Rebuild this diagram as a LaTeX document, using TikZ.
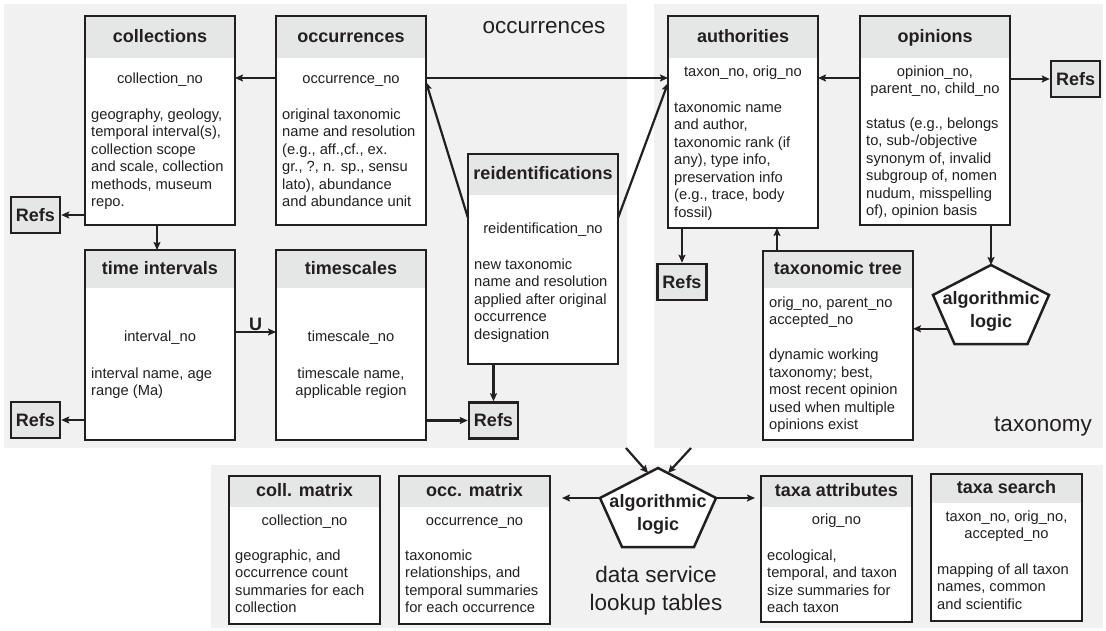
\documentclass[tikz,border=0pt]{standalone}
\usepackage{fontspec}
\setmainfont{Liberation Sans}
\usetikzlibrary{calc,arrows.meta}
\definecolor{ink}{HTML}{231F20}
\definecolor{panelgray}{HTML}{F1F1F1}
\definecolor{hdrfill}{HTML}{E5E7E6}
\newcommand\bodyfont{\fontsize{14.7}{17.5}\selectfont}
\newcommand\hdrfont{\fontsize{18}{22}\selectfont\bfseries}
\newcommand\panelfont{\fontsize{22.5}{28}\selectfont}
\tikzset{
  tbl/.style={draw=ink, line width=2.5pt, fill=white, anchor=north west, inner sep=0pt, outer sep=0pt, minimum width=150pt},
  hdr/.style={fill=hdrfill, anchor=north, inner sep=0pt, outer sep=0pt, minimum width=147.5pt, font=\hdrfont, text=ink, text height=13pt, text depth=3.5pt},
  keyline/.style={font=\bodyfont, text=ink, inner sep=0pt, text height=10.5pt, text depth=3.5pt},
  txt/.style={font=\bodyfont, text=ink, inner sep=0pt, align=left, anchor=north west, yshift=6.7pt},
  ctxt/.style={txt, align=center, anchor=north},
  refs/.style={draw=ink, line width=2.5pt, fill=hdrfill, font=\hdrfont, text=ink, minimum width=49pt, minimum height=36pt, inner sep=0pt},
  pent/.style={draw=ink, line width=2.5pt, fill=white, line join=miter},
  algtxt/.style={font=\fontsize{18}{23}\selectfont\bfseries, text=ink, align=center, inner sep=0pt},
  arr/.style={draw=ink, line width=2.2pt, -{Stealth[length=8pt,width=7pt,inset=1.5pt]}},
  lbl/.style={font=\panelfont, text=ink, text height=16pt, text depth=4.5pt},
  lbltwo/.style={font=\panelfont, text=ink, align=center, inner sep=0pt}
}
\begin{document}
\begin{tikzpicture}[x=1pt,y=-1pt]
\useasboundingbox (0,0) rectangle (1106,631);
\fill[panelgray] (4,4) rectangle (627,448);
\fill[panelgray] (654,4) rectangle (1103,448);
\fill[panelgray] (211,465) rectangle (1103,628);
\node[lbl] (occ-lbl) at (544,28) {occurrences};
\node[lbl] (tax-lbl) at (1043,426) {taxonomy};
\node[lbltwo] (dsl-lbl) at (656,591) {data service\\lookup tables};

\node[tbl, minimum height=209pt] (coll) at (85,16) {};
\node[hdr, minimum height=40.7pt] (coll-h) at ([yshift=-1.25pt]coll.north) {collections};
\node[keyline] (coll-k) at (160,80) {collection\_no};
\node[txt] (coll-t) at (91,115) {geography, geology,\\temporal interval(s),\\collection scope\\and scale, collection\\methods, museum\\repo.};

\node[tbl, minimum height=209pt] (occ) at (276,16) {};
\node[hdr, minimum height=40.7pt] (occ-h) at ([yshift=-1.25pt]occ.north) {occurrences};
\node[keyline] (occ-k) at (351,80) {occurrence\_no};
\node[txt] (occ-t) at (282,115) {original taxonomic\\name and resolution\\(e.g., aff.,cf., ex.\\gr., ?, n. sp., sensu\\lato), abundance\\and abundance unit};

\node[tbl, minimum height=190pt] (tint) at (85,250) {};
\node[hdr, minimum height=36.7pt] (tint-h) at ([yshift=-1.25pt]tint.north) {time intervals};
\node[keyline] (tint-k) at (160,338) {interval\_no};
\node[txt] (tint-t) at (91,374) {interval name, age\\range (Ma)};

\node[tbl, minimum height=190pt] (tscale) at (276,250) {};
\node[hdr, minimum height=36.7pt] (tscale-h) at ([yshift=-1.25pt]tscale.north) {timescales};
\node[keyline] (tscale-k) at (351,338) {timescale\_no};
\node[ctxt] (tscale-t) at (351,374) {timescale name,\\applicable region};

\node[tbl, minimum height=210pt] (reid) at (468,154) {};
\node[hdr, minimum height=39.7pt] (reid-h) at ([yshift=-1.25pt]reid.north) {reidentifications};
\node[keyline] (reid-k) at (543,230) {reidentification\_no};
\node[txt] (reid-t) at (474,265) {new taxonomic\\name and resolution\\applied after original\\occurrence\\designation};

\node[tbl, minimum height=212pt] (auth) at (668,16) {};
\node[hdr, minimum height=40.7pt] (auth-h) at ([yshift=-1.25pt]auth.north) {authorities};
\node[keyline] (auth-k) at (743,73) {taxon\_no, orig\_no};
\node[txt] (auth-t) at (674,108) {taxonomic name\\and author,\\taxonomic rank (if\\any), type info,\\preservation info\\(e.g., trace, body\\fossil)};

\node[tbl, minimum height=209pt] (opin) at (860,16) {};
\node[hdr, minimum height=40.7pt] (opin-h) at ([yshift=-1.25pt]opin.north) {opinions};
\node[ctxt] (opin-k) at (935,72) {opinion\_no,\\parent\_no, child\_no};
\node[txt] (opin-t) at (866,124) {status (e.g., belongs\\to, sub-/objective\\synonym of, invalid\\subgroup of, nomen\\nudum, misspelling\\of), opinion basis};

\node[tbl, minimum height=189pt] (ttree) at (763,251) {};
\node[hdr, minimum height=35.7pt] (ttree-h) at ([yshift=-1.25pt]ttree.north) {taxonomic tree};
\node[txt] (ttree-t) at (769,303) {orig\_no, parent\_no\\accepted\_no\\[17.5pt]dynamic working\\taxonomy; best,\\most recent opinion\\used when multiple\\opinions exist};

\node[tbl, minimum width=151pt, minimum height=148pt] (cmat) at (229,476) {};
\node[hdr, minimum width=148.5pt, minimum height=29.7pt] (cmat-h) at ([yshift=-1.25pt]cmat.north) {coll. matrix};
\node[keyline] (cmat-k) at (304.5,522) {collection\_no};
\node[txt] (cmat-t) at (235,556) {geographic, and\\occurrence count\\summaries for each\\collection};

\node[tbl, minimum width=151pt, minimum height=148pt] (omat) at (399,476) {};
\node[hdr, minimum width=148.5pt, minimum height=29.7pt] (omat-h) at ([yshift=-1.25pt]omat.north) {occ. matrix};
\node[keyline] (omat-k) at (474.5,522) {occurrence\_no};
\node[txt] (omat-t) at (405,556) {taxonomic\\relationships, and\\temporal summaries\\for each occurrence};

\node[tbl, minimum width=151pt, minimum height=146pt] (tattr) at (761,476) {};
\node[hdr, minimum width=148.5pt, minimum height=29.7pt] (tattr-h) at ([yshift=-1.25pt]tattr.north) {taxa attributes};
\node[keyline] (tattr-k) at (836.5,521) {orig\_no};
\node[txt] (tattr-t) at (767,556) {ecological,\\temporal, and taxon\\size summaries for\\each taxon};

\node[tbl, minimum width=151pt, minimum height=147pt] (tsearch) at (931,474) {};
\node[hdr, minimum width=148.5pt, minimum height=27.7pt] (tsearch-h) at ([yshift=-1.25pt]tsearch.north) {taxa search};
\node[ctxt] (tsearch-k) at (1006.5,517) {taxon\_no, orig\_no,\\accepted\_no};
\node[txt] (tsearch-t) at (937,570) {mapping of all taxon\\names, common\\and scientific};

\node[refs] (refs-coll) at (35.5,215) {Refs};
\node[refs] (refs-tint) at (35.5,420) {Refs};
\node[refs] (refs-reid) at (493.5,420.5) {Refs};
\node[refs] (refs-opin) at (1075.5,79) {Refs};
\node[refs] (refs-auth) at (682,282) {Refs};

\coordinate (alg1) at (991,311);
\draw[pent] ($(alg1)+(0,-46)$) coordinate (alg1-n) -- ($(alg1)+(58,-16)$) coordinate (alg1-ne)
  -- ($(alg1)+(36.5,33)$) coordinate (alg1-se) -- ($(alg1)+(-36.5,33)$) coordinate (alg1-sw)
  -- ($(alg1)+(-58,-16)$) coordinate (alg1-nw) -- cycle;
\node[algtxt] (alg1-t) at (alg1) {algorithmic\\logic};

\coordinate (alg2) at (658,514);
\draw[pent] ($(alg2)+(0,-46)$) coordinate (alg2-n) -- ($(alg2)+(58,-16)$) coordinate (alg2-ne)
  -- ($(alg2)+(36,33)$) coordinate (alg2-se) -- ($(alg2)+(-36,33)$) coordinate (alg2-sw)
  -- ($(alg2)+(-58,-16)$) coordinate (alg2-nw) -- cycle;
\node[algtxt] (alg2-t) at (alg2) {algorithmic\\logic};

\draw[arr] ($(occ.north west)+(0,62)$) -- ($(coll.north east)+(0,62)$);
\draw[arr] ($(occ.north east)+(0,62)$) -- ($(auth.north west)+(0,62)$);
\draw[arr] ($(reid.north west)+(0,64)$) -- ($(occ.north east)+(0,66)$);
\draw[arr] ($(reid.north east)+(0,64)$) -- ($(auth.north west)+(0,67)$);
\draw[arr] ($(coll.south west)+(72,0)$) coordinate (coll-dn) -- (coll-dn |- tint.north);
\draw[arr] (coll.west |- refs-coll) -- (refs-coll.east);
\draw[arr] (tint.west |- refs-tint) -- (refs-tint.east);
\draw[arr] ($(tint.north east)+(0,82)$) coordinate (tint-u) -- node[above, inner sep=0.5pt, font=\hdrfont, text=ink] (u-lbl) {U} (tint-u -| tscale.west);
\draw[arr] (tscale.east |- refs-reid) -- (refs-reid.west);
\draw[arr] ($(reid.south west)+(25.5,0)$) -- (refs-reid.north);
\draw[arr] ($(opin.north west)+(0,62)$) -- ($(auth.north east)+(0,62)$);
\draw[arr] (opin.east |- refs-opin) -- (refs-opin.west);
\draw[arr] ($(auth.south west)+(14,0)$) -- (refs-auth.north);
\draw[arr] ($(ttree.north west)+(14,0)$) coordinate (tt-up) -- (tt-up |- auth.south);
\draw[arr] (alg1-n |- opin.south) -- (alg1-n);
\draw[arr] ($(alg1-nw)!0.69!(alg1-sw)$) coordinate (alg1-w) -- (alg1-w -| ttree.east);

\coordinate (from-occ) at (626,448);
\coordinate (from-tax) at (691,448);
\draw[arr] (from-occ) -- ($(alg2-n)!0.17!(alg2-nw)$);
\draw[arr] (from-tax) -- ($(alg2-n)!0.17!(alg2-ne)$);
\draw[arr] (alg2-nw) -- ($(alg2-nw -| omat.east)+(12,0)$);
\draw[arr] (alg2-ne) -- ($(alg2-ne -| tattr.west)+(-6,0)$);
\end{tikzpicture}
\end{document}
